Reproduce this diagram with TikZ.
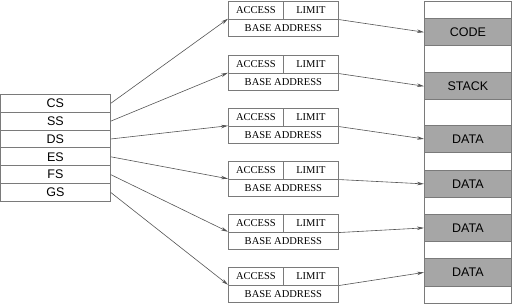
\documentclass[tikz,border=0pt]{standalone}
\usepackage{fontspec}
\setmainfont{Liberation Serif}
\setsansfont{Liberation Sans}
\usetikzlibrary{arrows.meta}
\definecolor{bordergray}{HTML}{7A7A7A}
\definecolor{linegray}{HTML}{555555}
\definecolor{fillgray}{HTML}{A6A6A6}
\begin{document}
\begin{tikzpicture}[x=1pt,y=-1pt,
 reg/.style={draw=bordergray, line width=0.8pt, minimum width=110pt, minimum height=17.83pt, inner sep=0pt, anchor=north west, font=\sffamily\fontsize{12.5}{14}\selectfont},
 half/.style={draw=bordergray, line width=0.8pt, minimum width=55pt, minimum height=17.75pt, inner sep=0pt, anchor=north west, font=\fontsize{10.5}{12}\selectfont},
 basebox/.style={half, minimum width=110pt},
 seg/.style={draw=bordergray, line width=0.8pt, minimum width=87pt, inner sep=0pt, anchor=north west, font=\sffamily\fontsize{12.5}{14}\selectfont},
 memfill/.style={seg, fill=fillgray},
 conn/.style={draw=linegray, line width=0.6pt, -{Stealth[length=7pt,width=3.5pt]}}
]
\useasboundingbox (0,0) rectangle (512,304);
% segment registers
\node[reg] (cs) at (0,94) {CS};
\node[reg] (ss) at (0,111.83) {SS};
\node[reg] (ds) at (0,129.67) {DS};
\node[reg] (es) at (0,147.5) {ES};
\node[reg] (fs) at (0,165.33) {FS};
\node[reg] (gs) at (0,183.17) {GS};
% descriptors
\foreach \i/\t in {1/1,2/55,3/108,4/161,5/214,6/267}{
  \node[half] (a\i) at (228,\t) {ACCESS};
  \node[half] (l\i) at (283,\t) {LIMIT};
  \node[basebox] (b\i) at (228,\t+17.75) {BASE ADDRESS};
}
% memory
\node[seg, minimum height=17.3pt] (m0) at (424,1) {};
\node[memfill, minimum height=27pt] (code) at (424,18.3) {CODE};
\node[seg, minimum height=27pt] (m1) at (424,45.3) {};
\node[memfill, minimum height=27pt] (stack) at (424,72.3) {STACK};
\node[seg, minimum height=26pt] (m2) at (424,99.3) {};
\node[memfill, minimum height=26.5pt] (d1) at (424,125.3) {DATA};
\node[seg, minimum height=18.2pt] (m3) at (424,151.8) {};
\node[memfill, minimum height=27pt] (d2) at (424,170) {DATA};
\node[seg, minimum height=17pt] (m4) at (424,197) {};
\node[memfill, minimum height=27pt] (d3) at (424,214) {DATA};
\node[seg, minimum height=17pt] (m5) at (424,241) {};
\node[memfill, minimum height=28pt] (d4) at (424,258) {DATA};
\node[seg, minimum height=17pt] (m6) at (424,286) {};
% register to descriptor
\draw[conn] (cs.east) -- (b1.north west);
\draw[conn] (ss.east) -- (b2.north west);
\draw[conn] (ds.east) -- (b3.north west);
\draw[conn] (es.east) -- (b4.north west);
\draw[conn] (fs.east) -- (b5.north west);
\draw[conn] (gs.east) -- (b6.north west);
% descriptor to memory
\draw[conn] (l1.south east) -- (code.west);
\draw[conn] (l2.south east) -- (stack.west);
\draw[conn] (l3.south east) -- (d1.west);
\draw[conn] (l4.south east) -- (d2.west);
\draw[conn] (l5.south east) -- (d3.west);
\draw[conn] (l6.south east) -- (d4.west);
\end{tikzpicture}
\end{document}
